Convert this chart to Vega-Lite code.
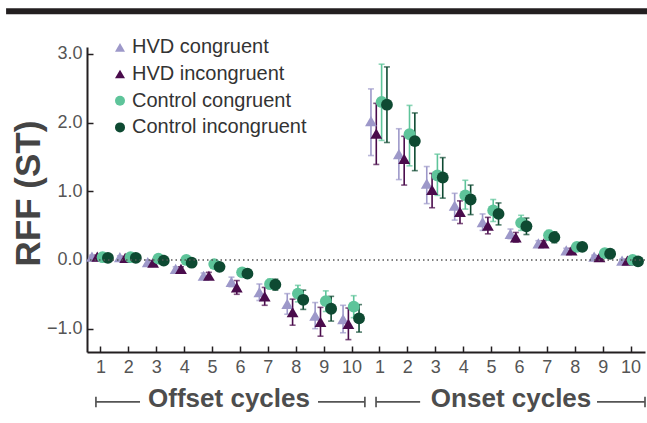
{
  "$schema": "https://vega.github.io/schema/vega-lite/v6.json",
  "width": 558,
  "height": 305,
  "autosize": {"type": "none"},
  "padding": {"left": 87, "top": 47, "right": 2, "bottom": 71},
  "config": {
    "view": {"stroke": null},
    "font": "Liberation Sans",
    "axis": {"grid": false, "domainColor": "#231f20", "domainWidth": 2, "tickColor": "#231f20", "tickWidth": 1.5, "labelColor": "#555555", "labelFontSize": 18, "labelFont": "Liberation Sans"},
    "legend": {"symbolOpacity": 1, "labelLimit": 400}
  },
  "layer": [
    {
      "data": {"values": [
        {"c": "Off 1", "g": "HVD congruent", "v": 0.05, "lo": 0.03, "hi": 0.07},
        {"c": "Off 1", "g": "HVD incongruent", "v": 0.05, "lo": 0.03, "hi": 0.07},
        {"c": "Off 1", "g": "Control congruent", "v": 0.04, "lo": 0.02, "hi": 0.06},
        {"c": "Off 1", "g": "Control incongruent", "v": 0.03, "lo": 0.01, "hi": 0.05},
        {"c": "Off 2", "g": "HVD congruent", "v": 0.04, "lo": 0.02, "hi": 0.06},
        {"c": "Off 2", "g": "HVD incongruent", "v": 0.03, "lo": 0.01, "hi": 0.05},
        {"c": "Off 2", "g": "Control congruent", "v": 0.04, "lo": 0.02, "hi": 0.06},
        {"c": "Off 2", "g": "Control incongruent", "v": 0.03, "lo": 0.01, "hi": 0.05},
        {"c": "Off 3", "g": "HVD congruent", "v": -0.03, "lo": -0.06, "hi": 0.0},
        {"c": "Off 3", "g": "HVD incongruent", "v": -0.04, "lo": -0.07, "hi": -0.01},
        {"c": "Off 3", "g": "Control congruent", "v": 0.02, "lo": -0.01, "hi": 0.05},
        {"c": "Off 3", "g": "Control incongruent", "v": -0.01, "lo": -0.04, "hi": 0.02},
        {"c": "Off 4", "g": "HVD congruent", "v": -0.13, "lo": -0.16, "hi": -0.10},
        {"c": "Off 4", "g": "HVD incongruent", "v": -0.13, "lo": -0.16, "hi": -0.10},
        {"c": "Off 4", "g": "Control congruent", "v": 0.0, "lo": -0.03, "hi": 0.03},
        {"c": "Off 4", "g": "Control incongruent", "v": -0.04, "lo": -0.07, "hi": -0.01},
        {"c": "Off 5", "g": "HVD congruent", "v": -0.23, "lo": -0.27, "hi": -0.19},
        {"c": "Off 5", "g": "HVD incongruent", "v": -0.23, "lo": -0.28, "hi": -0.18},
        {"c": "Off 5", "g": "Control congruent", "v": -0.06, "lo": -0.09, "hi": -0.03},
        {"c": "Off 5", "g": "Control incongruent", "v": -0.10, "lo": -0.13, "hi": -0.07},
        {"c": "Off 6", "g": "HVD congruent", "v": -0.32, "lo": -0.39, "hi": -0.25},
        {"c": "Off 6", "g": "HVD incongruent", "v": -0.40, "lo": -0.50, "hi": -0.30},
        {"c": "Off 6", "g": "Control congruent", "v": -0.18, "lo": -0.22, "hi": -0.14},
        {"c": "Off 6", "g": "Control incongruent", "v": -0.20, "lo": -0.24, "hi": -0.16},
        {"c": "Off 7", "g": "HVD congruent", "v": -0.47, "lo": -0.59, "hi": -0.35},
        {"c": "Off 7", "g": "HVD incongruent", "v": -0.53, "lo": -0.66, "hi": -0.40},
        {"c": "Off 7", "g": "Control congruent", "v": -0.35, "lo": -0.42, "hi": -0.28},
        {"c": "Off 7", "g": "Control incongruent", "v": -0.36, "lo": -0.44, "hi": -0.28},
        {"c": "Off 8", "g": "HVD congruent", "v": -0.64, "lo": -0.79, "hi": -0.49},
        {"c": "Off 8", "g": "HVD incongruent", "v": -0.76, "lo": -0.95, "hi": -0.57},
        {"c": "Off 8", "g": "Control congruent", "v": -0.49, "lo": -0.61, "hi": -0.37},
        {"c": "Off 8", "g": "Control incongruent", "v": -0.58, "lo": -0.72, "hi": -0.44},
        {"c": "Off 9", "g": "HVD congruent", "v": -0.81, "lo": -1.00, "hi": -0.62},
        {"c": "Off 9", "g": "HVD incongruent", "v": -0.90, "lo": -1.11, "hi": -0.69},
        {"c": "Off 9", "g": "Control congruent", "v": -0.60, "lo": -0.75, "hi": -0.45},
        {"c": "Off 9", "g": "Control incongruent", "v": -0.71, "lo": -0.89, "hi": -0.53},
        {"c": "Off 10", "g": "HVD congruent", "v": -0.86, "lo": -1.06, "hi": -0.66},
        {"c": "Off 10", "g": "HVD incongruent", "v": -0.93, "lo": -1.16, "hi": -0.70},
        {"c": "Off 10", "g": "Control congruent", "v": -0.68, "lo": -0.84, "hi": -0.52},
        {"c": "Off 10", "g": "Control incongruent", "v": -0.85, "lo": -1.05, "hi": -0.65},
        {"c": "On 1", "g": "HVD congruent", "v": 2.02, "lo": 1.52, "hi": 2.49},
        {"c": "On 1", "g": "HVD incongruent", "v": 1.84, "lo": 1.39, "hi": 2.28},
        {"c": "On 1", "g": "Control congruent", "v": 2.30, "lo": 1.74, "hi": 2.85},
        {"c": "On 1", "g": "Control incongruent", "v": 2.26, "lo": 1.71, "hi": 2.81},
        {"c": "On 2", "g": "HVD congruent", "v": 1.54, "lo": 1.17, "hi": 1.91},
        {"c": "On 2", "g": "HVD incongruent", "v": 1.47, "lo": 1.09, "hi": 1.80},
        {"c": "On 2", "g": "Control congruent", "v": 1.83, "lo": 1.37, "hi": 2.25},
        {"c": "On 2", "g": "Control incongruent", "v": 1.73, "lo": 1.30, "hi": 2.14},
        {"c": "On 3", "g": "HVD congruent", "v": 1.11, "lo": 0.82, "hi": 1.36},
        {"c": "On 3", "g": "HVD incongruent", "v": 1.02, "lo": 0.76, "hi": 1.26},
        {"c": "On 3", "g": "Control congruent", "v": 1.23, "lo": 0.94, "hi": 1.54},
        {"c": "On 3", "g": "Control incongruent", "v": 1.20, "lo": 0.90, "hi": 1.49},
        {"c": "On 4", "g": "HVD congruent", "v": 0.79, "lo": 0.58, "hi": 0.97},
        {"c": "On 4", "g": "HVD incongruent", "v": 0.70, "lo": 0.53, "hi": 0.86},
        {"c": "On 4", "g": "Control congruent", "v": 0.94, "lo": 0.74, "hi": 1.16},
        {"c": "On 4", "g": "Control incongruent", "v": 0.88, "lo": 0.66, "hi": 1.09},
        {"c": "On 5", "g": "HVD congruent", "v": 0.55, "lo": 0.43, "hi": 0.67},
        {"c": "On 5", "g": "HVD incongruent", "v": 0.50, "lo": 0.38, "hi": 0.62},
        {"c": "On 5", "g": "Control congruent", "v": 0.72, "lo": 0.56, "hi": 0.88},
        {"c": "On 5", "g": "Control incongruent", "v": 0.67, "lo": 0.51, "hi": 0.83},
        {"c": "On 6", "g": "HVD congruent", "v": 0.38, "lo": 0.31, "hi": 0.45},
        {"c": "On 6", "g": "HVD incongruent", "v": 0.33, "lo": 0.26, "hi": 0.40},
        {"c": "On 6", "g": "Control congruent", "v": 0.54, "lo": 0.43, "hi": 0.65},
        {"c": "On 6", "g": "Control incongruent", "v": 0.49, "lo": 0.37, "hi": 0.61},
        {"c": "On 7", "g": "HVD congruent", "v": 0.24, "lo": 0.20, "hi": 0.28},
        {"c": "On 7", "g": "HVD incongruent", "v": 0.24, "lo": 0.20, "hi": 0.28},
        {"c": "On 7", "g": "Control congruent", "v": 0.36, "lo": 0.29, "hi": 0.43},
        {"c": "On 7", "g": "Control incongruent", "v": 0.33, "lo": 0.25, "hi": 0.41},
        {"c": "On 8", "g": "HVD congruent", "v": 0.14, "lo": 0.11, "hi": 0.17},
        {"c": "On 8", "g": "HVD incongruent", "v": 0.14, "lo": 0.11, "hi": 0.17},
        {"c": "On 8", "g": "Control congruent", "v": 0.19, "lo": 0.16, "hi": 0.22},
        {"c": "On 8", "g": "Control incongruent", "v": 0.19, "lo": 0.16, "hi": 0.22},
        {"c": "On 9", "g": "HVD congruent", "v": 0.05, "lo": 0.03, "hi": 0.07},
        {"c": "On 9", "g": "HVD incongruent", "v": 0.04, "lo": 0.02, "hi": 0.06},
        {"c": "On 9", "g": "Control congruent", "v": 0.10, "lo": 0.08, "hi": 0.12},
        {"c": "On 9", "g": "Control incongruent", "v": 0.09, "lo": 0.07, "hi": 0.11},
        {"c": "On 10", "g": "HVD congruent", "v": -0.01, "lo": -0.03, "hi": 0.01},
        {"c": "On 10", "g": "HVD incongruent", "v": -0.01, "lo": -0.03, "hi": 0.01},
        {"c": "On 10", "g": "Control congruent", "v": 0.0, "lo": -0.02, "hi": 0.02},
        {"c": "On 10", "g": "Control incongruent", "v": -0.02, "lo": -0.04, "hi": 0.0}
      ]},
      "encoding": {
        "x": {"field": "c", "type": "ordinal", "sort": null, "scale": {"paddingInner": 0, "paddingOuter": 0},
              "axis": {"title": null, "labelExpr": "split(datum.label, ' ')[1]", "labelAngle": 0, "tickSize": -6, "labelPadding": 12}},
        "xOffset": {"field": "g", "type": "nominal", "sort": ["HVD congruent", "HVD incongruent", "Control congruent", "Control incongruent"], "scale": {"range": [2.3, 23.6]}},
        "color": {"field": "g", "type": "nominal", "sort": ["HVD congruent", "HVD incongruent", "Control congruent", "Control incongruent"],
                  "scale": {"domain": ["HVD congruent", "HVD incongruent", "Control congruent", "Control incongruent"], "range": ["#9d98c9", "#4a0c4c", "#5ec49a", "#0e4a32"]},
                  "legend": {"title": null, "orient": "none", "legendX": 23, "legendY": -9.7, "padding": 0, "labelFontSize": 20, "labelColor": "#333333", "labelFont": "Liberation Sans", "labelLimit": 400, "symbolSize": 100, "symbolOpacity": 1, "rowPadding": 6.7, "labelOffset": 2, "symbolStrokeWidth": 0}}
      },
      "layer": [
        {"mark": {"type": "rule", "strokeWidth": 1.6},
         "encoding": {"y": {"field": "lo", "type": "quantitative", "title": "RFF (ST)", "scale": {"domain": [-1.34, 3.1], "nice": false, "zero": false},
                            "axis": {"values": [-1, 0, 1, 2, 3], "format": ".1f", "tickSize": -6, "labelPadding": 11, "title": "RFF (ST)", "titleFontSize": 35, "titleFontWeight": "bold", "titleColor": "#444444", "titleFont": "Liberation Sans", "titleX": -59, "titleY": 146, "titleBaseline": "middle", "titleAngle": 270}},
                      "y2": {"field": "hi"}}},
        {"mark": {"type": "tick", "size": 6, "thickness": 1.6},
         "encoding": {"y": {"field": "lo", "type": "quantitative", "title": "RFF (ST)"}}},
        {"mark": {"type": "tick", "size": 6, "thickness": 1.6},
         "encoding": {"y": {"field": "hi", "type": "quantitative", "title": "RFF (ST)"}}},
        {"mark": {"type": "point", "filled": true, "size": 140, "opacity": 1},
         "encoding": {"y": {"field": "v", "type": "quantitative", "title": "RFF (ST)"},
                      "shape": {"field": "g", "type": "nominal", "sort": ["HVD congruent", "HVD incongruent", "Control congruent", "Control incongruent"],
                                "scale": {"domain": ["HVD congruent", "HVD incongruent", "Control congruent", "Control incongruent"], "range": ["triangle-up", "triangle-up", "circle", "circle"]},
                                "legend": {"title": null, "orient": "none", "legendX": 23, "legendY": -9.7, "padding": 0, "labelFontSize": 20, "labelColor": "#333333", "labelFont": "Liberation Sans", "labelLimit": 400, "symbolSize": 100, "symbolOpacity": 1, "rowPadding": 6.7, "labelOffset": 2, "symbolStrokeWidth": 0}}}}
      ]
    },
    {
      "data": {"values": [{}]},
      "layer": [
        {"mark": {"type": "rule", "strokeDash": [1.5, 3], "color": "#555555", "strokeWidth": 1.4},
         "encoding": {"y": {"datum": 0, "type": "quantitative"}}},
        {"mark": {"type": "rule", "color": "#231f20", "strokeWidth": 6},
         "encoding": {"x": {"datum": -2.9, "type": "quantitative", "scale": {"domain": [0, 20], "nice": false, "zero": false}, "axis": null}, "x2": {"datum": 21}, "y": {"datum": 3.62, "type": "quantitative"}}},
        {"mark": {"type": "rule", "color": "#555555", "strokeWidth": 1.7},
         "encoding": {"x": {"datum": 0.32, "type": "quantitative", "axis": null}, "x2": {"datum": 1.9}, "y": {"datum": -2.067, "type": "quantitative"}}},
        {"mark": {"type": "rule", "color": "#555555", "strokeWidth": 1.7},
         "encoding": {"x": {"datum": 8.28, "type": "quantitative", "axis": null}, "x2": {"datum": 9.96}, "y": {"datum": -2.067, "type": "quantitative"}}},
        {"mark": {"type": "rule", "color": "#555555", "strokeWidth": 1.7},
         "encoding": {"x": {"datum": 10.36, "type": "quantitative", "axis": null}, "x2": {"datum": 11.94}, "y": {"datum": -2.067, "type": "quantitative"}}},
        {"mark": {"type": "rule", "color": "#555555", "strokeWidth": 1.7},
         "encoding": {"x": {"datum": 18.28, "type": "quantitative", "axis": null}, "x2": {"datum": 20.0}, "y": {"datum": -2.067, "type": "quantitative"}}},
        {"mark": {"type": "rule", "color": "#555555", "strokeWidth": 1.7},
         "encoding": {"x": {"datum": 0.32, "type": "quantitative", "axis": null}, "y": {"datum": -1.99, "type": "quantitative"}, "y2": {"datum": -2.145}}},
        {"mark": {"type": "rule", "color": "#555555", "strokeWidth": 1.7},
         "encoding": {"x": {"datum": 9.96, "type": "quantitative", "axis": null}, "y": {"datum": -1.99, "type": "quantitative"}, "y2": {"datum": -2.145}}},
        {"mark": {"type": "rule", "color": "#555555", "strokeWidth": 1.7},
         "encoding": {"x": {"datum": 10.36, "type": "quantitative", "axis": null}, "y": {"datum": -1.99, "type": "quantitative"}, "y2": {"datum": -2.145}}},
        {"mark": {"type": "rule", "color": "#555555", "strokeWidth": 1.7},
         "encoding": {"x": {"datum": 20.0, "type": "quantitative", "axis": null}, "y": {"datum": -1.99, "type": "quantitative"}, "y2": {"datum": -2.145}}},
        {"mark": {"type": "text", "text": "Offset cycles", "font": "Liberation Sans", "fontSize": 26, "fontWeight": "bold", "color": "#4d4d4d", "baseline": "alphabetic", "align": "center"},
         "encoding": {"x": {"datum": 5.09, "type": "quantitative", "axis": null}, "y": {"datum": -2.136, "type": "quantitative"}}},
        {"mark": {"type": "text", "text": "Onset cycles", "font": "Liberation Sans", "fontSize": 26, "fontWeight": "bold", "color": "#4d4d4d", "baseline": "alphabetic", "align": "center"},
         "encoding": {"x": {"datum": 15.2, "type": "quantitative", "axis": null}, "y": {"datum": -2.136, "type": "quantitative"}}}
      ]
    }
  ],
  "resolve": {"scale": {"x": "independent"}}
}
